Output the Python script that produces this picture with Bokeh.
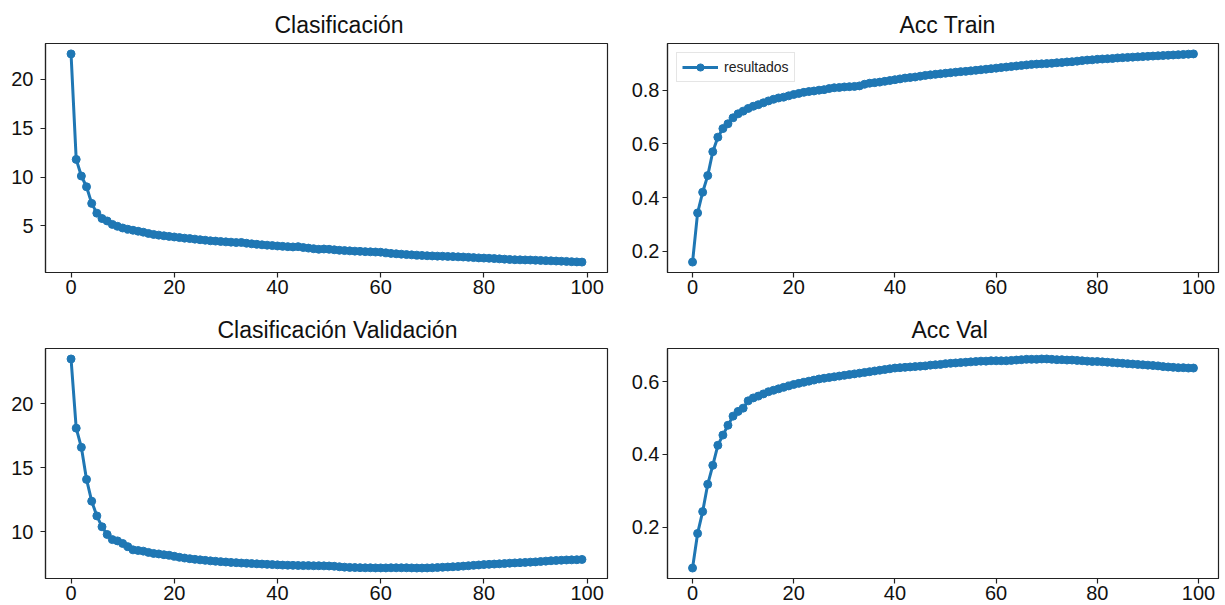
from bokeh.plotting import figure
from bokeh.layouts import column, row
from bokeh.models import Range1d, FixedTicker, Legend, LegendItem
from bokeh.embed import file_html
from bokeh.resources import INLINE

epochs = list(range(100))

loss_train = [
    22.6, 11.8, 10.1, 9.0, 7.3, 6.3, 5.75, 5.5, 5.15, 4.95,
    4.78, 4.65, 4.55, 4.45, 4.35, 4.22, 4.12, 4.05, 3.98, 3.92,
    3.86, 3.8, 3.74, 3.7, 3.64, 3.58, 3.53, 3.47, 3.44, 3.4,
    3.36, 3.33, 3.29, 3.3, 3.22, 3.16, 3.11, 3.06, 3.02, 2.98,
    2.94, 2.9, 2.87, 2.84, 2.87, 2.78, 2.72, 2.66, 2.6, 2.63,
    2.6, 2.55, 2.5, 2.47, 2.44, 2.41, 2.39, 2.36, 2.34, 2.32,
    2.3, 2.24, 2.18, 2.14, 2.1, 2.06, 2.03, 2.0, 1.97, 1.94,
    1.92, 1.9, 1.89, 1.87, 1.85, 1.83, 1.81, 1.78, 1.75, 1.72,
    1.7, 1.68, 1.65, 1.62, 1.59, 1.56, 1.53, 1.52, 1.51, 1.5,
    1.48, 1.46, 1.44, 1.42, 1.4, 1.38, 1.36, 1.33, 1.31, 1.29,
]

loss_val = [
    23.5, 18.1, 16.6, 14.1, 12.4, 11.25, 10.4, 9.8, 9.4, 9.3,
    9.1, 8.85, 8.6, 8.55, 8.5, 8.4, 8.32, 8.28, 8.22, 8.18,
    8.1, 8.02, 7.96, 7.91, 7.86, 7.82, 7.78, 7.74, 7.71, 7.68,
    7.65, 7.62, 7.6, 7.57, 7.55, 7.53, 7.51, 7.49, 7.47, 7.45,
    7.43, 7.41, 7.4, 7.39, 7.38, 7.37, 7.37, 7.36, 7.36, 7.35,
    7.34, 7.32, 7.28, 7.25, 7.23, 7.22, 7.21, 7.2, 7.2, 7.19,
    7.19, 7.19, 7.2, 7.2, 7.2, 7.2, 7.19, 7.18, 7.18, 7.19,
    7.2, 7.22, 7.24, 7.26, 7.28, 7.3, 7.33, 7.36, 7.39, 7.42,
    7.45, 7.47, 7.49, 7.51, 7.53, 7.56, 7.58, 7.6, 7.62, 7.64,
    7.66, 7.69, 7.72, 7.75, 7.77, 7.79, 7.81, 7.82, 7.83, 7.85,
]

acc_train = [
    0.16, 0.343, 0.42, 0.482, 0.571, 0.625, 0.657, 0.675, 0.697, 0.712,
    0.722, 0.732, 0.740, 0.746, 0.753, 0.760, 0.766, 0.771, 0.774, 0.779,
    0.784, 0.788, 0.792, 0.795, 0.797, 0.800, 0.802, 0.806, 0.809, 0.810,
    0.812, 0.813, 0.814, 0.816, 0.822, 0.826, 0.828, 0.830, 0.833, 0.836,
    0.839, 0.842, 0.845, 0.847, 0.849, 0.852, 0.855, 0.857, 0.859, 0.861,
    0.863, 0.865, 0.867, 0.869, 0.870, 0.872, 0.874, 0.876, 0.878, 0.880,
    0.882, 0.884, 0.886, 0.888, 0.890, 0.892, 0.894, 0.896, 0.897, 0.898,
    0.899, 0.900, 0.902, 0.903, 0.905, 0.906, 0.908, 0.910, 0.912, 0.913,
    0.915, 0.916, 0.917, 0.918, 0.920, 0.921, 0.922, 0.923, 0.924, 0.925,
    0.926, 0.927, 0.928, 0.929, 0.930, 0.931, 0.932, 0.933, 0.934, 0.935,
]

acc_val = [
    0.088, 0.183, 0.243, 0.318, 0.370, 0.425, 0.453, 0.480, 0.505, 0.518,
    0.527, 0.547, 0.555, 0.560, 0.566, 0.572, 0.576, 0.580, 0.584, 0.588,
    0.592, 0.595, 0.598, 0.601, 0.604, 0.607, 0.609, 0.611, 0.613, 0.615,
    0.617, 0.619, 0.621, 0.623, 0.625, 0.627, 0.629, 0.631, 0.633, 0.635,
    0.637, 0.638, 0.639, 0.640, 0.641, 0.642, 0.643, 0.645, 0.646, 0.647,
    0.649, 0.650, 0.651, 0.652, 0.653, 0.654, 0.655, 0.656, 0.656, 0.657,
    0.657, 0.657, 0.657, 0.658, 0.659, 0.660, 0.661, 0.661, 0.661, 0.662,
    0.662, 0.661, 0.660, 0.660, 0.659, 0.659, 0.658, 0.657, 0.656, 0.655,
    0.655, 0.654, 0.653, 0.652, 0.651, 0.650, 0.649, 0.648, 0.647, 0.646,
    0.645, 0.644, 0.643, 0.641, 0.640, 0.639, 0.638, 0.638, 0.637, 0.637,
]

titles = ["Clasificación", "Acc Train", "Clasificación Validación", "Acc Val"]
x_ticks = [0, 20, 40, 60, 80, 100]
y_ticks_loss_train = [5, 10, 15, 20]
y_ticks_acc_train = [0.2, 0.4, 0.6, 0.8]
y_ticks_loss_val = [10, 15, 20]
y_ticks_acc_val = [0.2, 0.4, 0.6]
legend_label = "resultados"

BLUE = "#1f77b4"
FONT = "Liberation Sans"


def make(title, ys, yticks, w, h, bl, br, bt, bb, title_offset, ystand, legend=False):
    lo, hi = min(ys), max(ys)
    pad = 0.05 * (hi - lo)
    xpad = 0.05 * (max(epochs) - min(epochs))
    p = figure(width=w, height=h, output_backend="svg", toolbar_location=None,
               x_range=Range1d(min(epochs) - xpad, max(epochs) + xpad),
               y_range=Range1d(lo - pad, hi + pad),
               min_border_left=bl, min_border_right=br,
               min_border_top=bt, min_border_bottom=bb)
    p.title.text = title
    p.title.align = "left"
    p.title.offset = title_offset
    p.title.text_font = FONT
    p.title.text_font_size = "23px"
    p.title.text_font_style = "normal"
    p.title.text_color = "#111111"
    p.title.standoff = 12
    p.xgrid.visible = False
    p.ygrid.visible = False
    p.outline_line_color = "#222222"
    p.outline_line_width = 1.2
    p.outline_line_alpha = 1
    p.background_fill_color = "white"
    p.border_fill_color = "white"
    for ax, ticks in ((p.xaxis[0], x_ticks), (p.yaxis[0], yticks)):
        ax.ticker = FixedTicker(ticks=ticks)
        ax.minor_tick_line_color = None
        ax.major_tick_out = 5
        ax.major_tick_in = 0
        ax.major_tick_line_color = "#222222"
        ax.major_tick_line_width = 1.2
        ax.axis_line_color = "#222222"
        ax.axis_line_width = 1.2
        ax.major_label_text_font = FONT
        ax.major_label_text_font_size = "20px"
        ax.major_label_text_color = "#111111"
    p.xaxis[0].major_label_standoff = 2
    p.yaxis[0].major_label_standoff = ystand
    r1 = p.line(epochs, ys, line_color=BLUE, line_width=3)
    r2 = p.scatter(epochs, ys, size=8, fill_color=BLUE, line_color=BLUE)
    if legend:
        lg = Legend(items=[LegendItem(label=legend_label, renderers=[r1, r2])],
                    location="top_left", margin=9, padding=5, spacing=0,
                    glyph_width=36, glyph_height=18, label_height=18,
                    label_standoff=6,
                    label_text_font=FONT,
                    label_text_font_size="14px",
                    label_text_color="#222222",
                    border_line_color="#cccccc", border_line_width=1,
                    background_fill_alpha=0.8)
        p.add_layout(lg)
    return p


p1 = make(titles[0], loss_train, y_ticks_loss_train, 622, 302, 45, 15, 43, 30, 229, 7)
p2 = make(titles[1], acc_train, y_ticks_acc_train, 603, 302, 45, 7, 43, 30, 232, 3, legend=True)
p3 = make(titles[2], loss_val, y_ticks_loss_val, 622, 303, 45, 15, 46, 27, 172, 7)
p4 = make(titles[3], acc_val, y_ticks_acc_val, 603, 303, 45, 7, 46, 27, 244, 3)

layout = column(row(p1, p2, spacing=0), row(p3, p4, spacing=0), spacing=0)

open("out.html", "w").write(file_html(layout, INLINE))
